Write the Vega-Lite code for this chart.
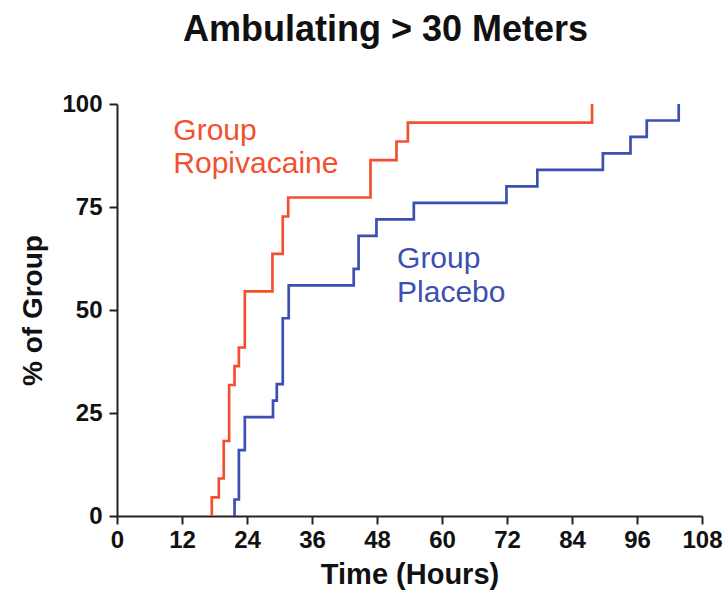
{
  "$schema": "https://vega.github.io/schema/vega-lite/v6.json",
  "autosize": "none",
  "width": 585,
  "height": 412,
  "padding": {"left": 117, "top": 104, "right": 26, "bottom": 78},
  "background": "white",
  "title": {
    "text": "Ambulating > 30 Meters",
    "font": "Liberation Sans",
    "fontSize": 36,
    "fontWeight": "bold",
    "color": "#111111",
    "anchor": "middle",
    "dx": -24,
    "offset": 43
  },
  "config": {
    "view": {"stroke": null},
    "axis": {
      "grid": false,
      "domainColor": "#222222",
      "domainWidth": 2,
      "tickColor": "#222222",
      "tickWidth": 2,
      "tickSize": 8,
      "labelFont": "Liberation Sans",
      "labelFontWeight": "bold",
      "labelFontSize": 24,
      "labelColor": "#111111",
      "titleFont": "Liberation Sans",
      "titleFontWeight": "bold",
      "titleColor": "#111111"
    }
  },
  "datasets": {
    "curves": [
      {"group": "Ropivacaine", "time": 17.5, "pct": 0},
      {"group": "Ropivacaine", "time": 17.5, "pct": 4.5},
      {"group": "Ropivacaine", "time": 18.8, "pct": 9.1},
      {"group": "Ropivacaine", "time": 19.7, "pct": 18.2},
      {"group": "Ropivacaine", "time": 20.7, "pct": 31.8},
      {"group": "Ropivacaine", "time": 21.7, "pct": 36.4},
      {"group": "Ropivacaine", "time": 22.5, "pct": 40.9},
      {"group": "Ropivacaine", "time": 23.6, "pct": 54.5},
      {"group": "Ropivacaine", "time": 28.7, "pct": 63.6},
      {"group": "Ropivacaine", "time": 30.6, "pct": 72.7},
      {"group": "Ropivacaine", "time": 31.6, "pct": 77.3},
      {"group": "Ropivacaine", "time": 46.8, "pct": 86.4},
      {"group": "Ropivacaine", "time": 51.6, "pct": 90.9},
      {"group": "Ropivacaine", "time": 53.7, "pct": 95.5},
      {"group": "Ropivacaine", "time": 87.7, "pct": 100},
      {"group": "Placebo", "time": 21.7, "pct": 0},
      {"group": "Placebo", "time": 21.7, "pct": 4},
      {"group": "Placebo", "time": 22.5, "pct": 16},
      {"group": "Placebo", "time": 23.6, "pct": 24},
      {"group": "Placebo", "time": 28.8, "pct": 28},
      {"group": "Placebo", "time": 29.5, "pct": 32},
      {"group": "Placebo", "time": 30.6, "pct": 48},
      {"group": "Placebo", "time": 31.7, "pct": 56},
      {"group": "Placebo", "time": 43.7, "pct": 60},
      {"group": "Placebo", "time": 44.6, "pct": 68},
      {"group": "Placebo", "time": 47.9, "pct": 72},
      {"group": "Placebo", "time": 54.8, "pct": 76},
      {"group": "Placebo", "time": 71.9, "pct": 80},
      {"group": "Placebo", "time": 77.6, "pct": 84},
      {"group": "Placebo", "time": 89.7, "pct": 88},
      {"group": "Placebo", "time": 94.8, "pct": 92},
      {"group": "Placebo", "time": 97.8, "pct": 96},
      {"group": "Placebo", "time": 103.7, "pct": 100}
    ],
    "labels": [
      {"group": "Ropivacaine", "time": 10.4, "pct": 91.3, "text": "Group"},
      {"group": "Ropivacaine", "time": 10.4, "pct": 83.3, "text": "Ropivacaine"},
      {"group": "Placebo", "time": 51.7, "pct": 60.2, "text": "Group"},
      {"group": "Placebo", "time": 51.7, "pct": 51.9, "text": "Placebo"}
    ]
  },
  "encoding": {
    "x": {
      "field": "time",
      "type": "quantitative",
      "scale": {"domain": [0, 108], "nice": false, "zero": false},
      "axis": {
        "values": [0, 12, 24, 36, 48, 60, 72, 84, 96, 108],
        "title": "Time (Hours)",
        "titleFontSize": 29,
        "titlePadding": 8,
        "labelPadding": 4,
        "labelFlush": false
      }
    },
    "y": {
      "field": "pct",
      "type": "quantitative",
      "scale": {"domain": [0, 100], "nice": false},
      "axis": {
        "values": [0, 25, 50, 75, 100],
        "title": "% of Group",
        "titleFontSize": 28,
        "titlePadding": 14,
        "labelPadding": 7,
        "labelFlush": false
      }
    },
    "color": {
      "field": "group",
      "type": "nominal",
      "scale": {"domain": ["Ropivacaine", "Placebo"], "range": ["#F2502F", "#3D4FB0"]},
      "legend": null
    }
  },
  "layer": [
    {
      "data": {"name": "curves"},
      "mark": {"type": "line", "interpolate": "step-after", "strokeWidth": 2.7}
    },
    {
      "data": {"name": "labels"},
      "mark": {"type": "text", "align": "left", "baseline": "alphabetic", "font": "Liberation Sans", "fontSize": 30},
      "encoding": {"text": {"field": "text"}}
    }
  ]
}
